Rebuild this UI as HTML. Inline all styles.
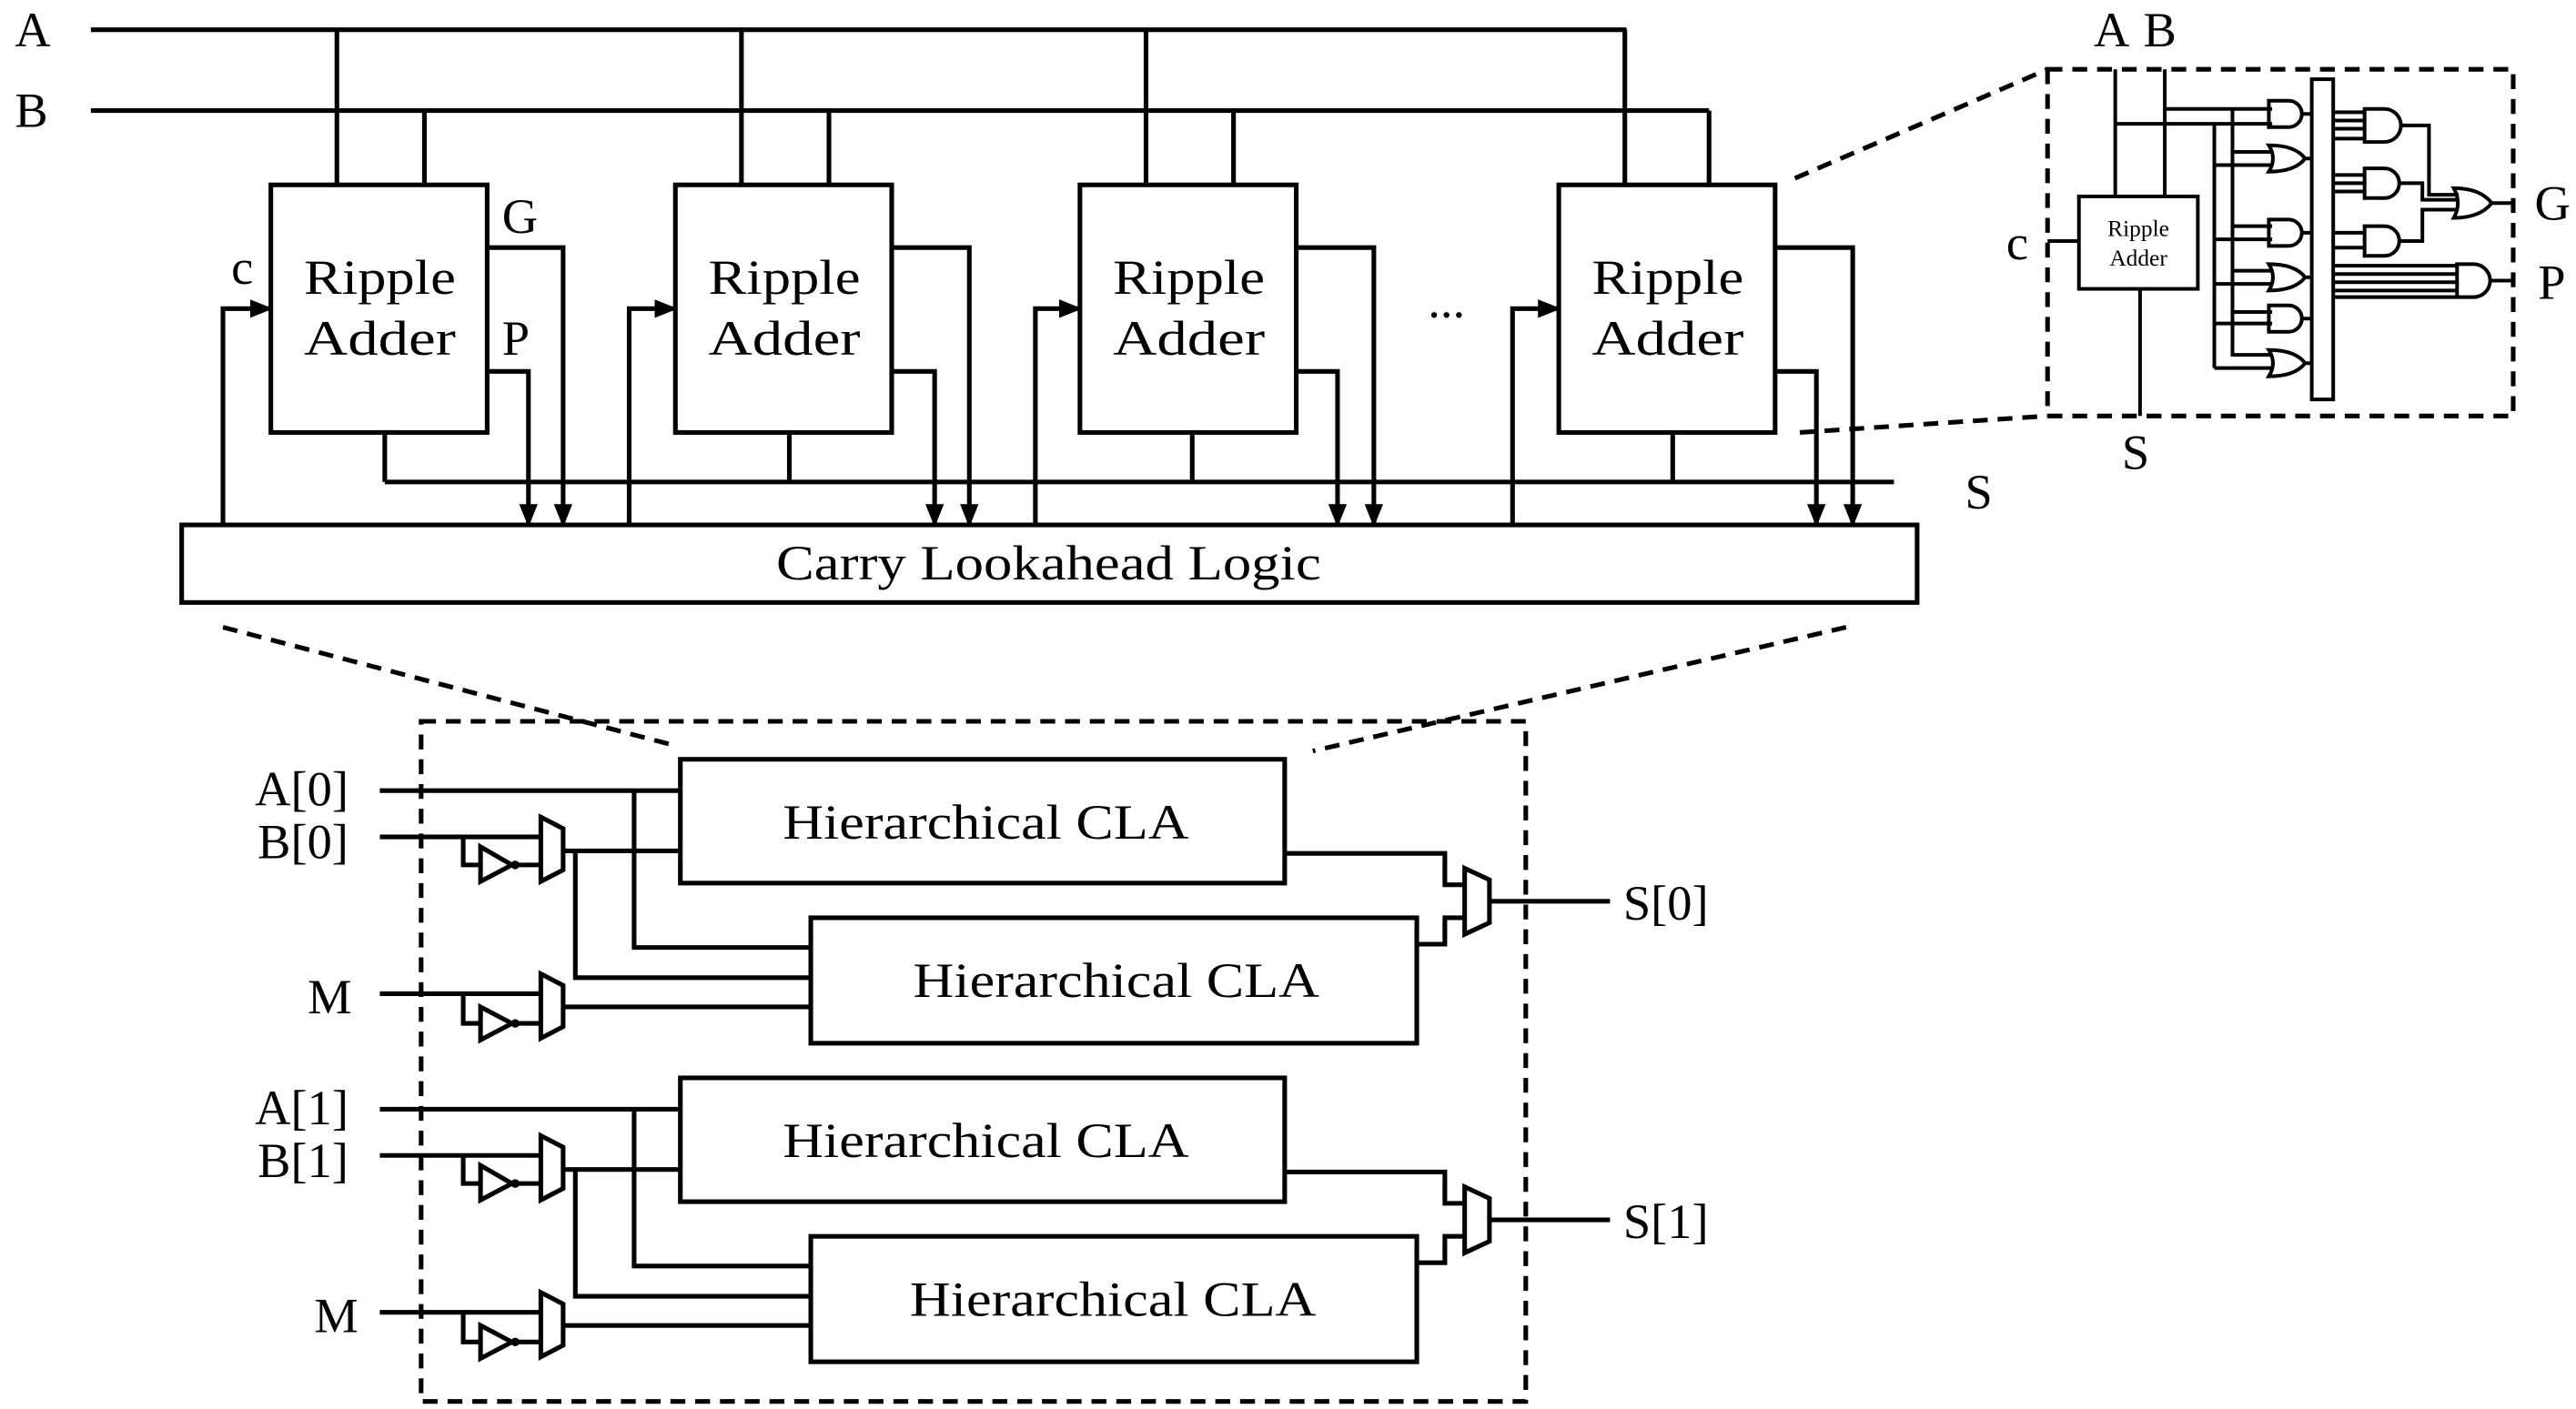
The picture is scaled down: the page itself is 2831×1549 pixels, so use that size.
<!DOCTYPE html>
<html><head><meta charset="utf-8"><style>html,body{margin:0;padding:0;background:#fff}svg{display:block}</style></head><body>
<svg width="2831" height="1549" viewBox="0 0 1560 853.6" xmlns="http://www.w3.org/2000/svg" font-family="Liberation Serif, serif">
<defs>
<marker id="arr" viewBox="0 0 10 10" refX="9" refY="5" markerWidth="14" markerHeight="14" orient="auto" markerUnits="userSpaceOnUse"><path d="M0,1 L10,5 L0,9 z" fill="#000"/></marker>
</defs>
<g fill="none" stroke="#000" stroke-width="2.8">
<path d="M55,18 H985 M55,67 H1035"/>
<path d="M204,18V112 M449,18V112 M694,18V112 M984,18V112"/>
<path d="M257,67V112 M502,67V112 M747,67V112 M1035,67V112"/>
<rect x="164" y="112" width="131" height="150"/>
<rect x="409" y="112" width="131" height="150"/>
<rect x="654" y="112" width="131" height="150"/>
<rect x="944" y="112" width="131" height="150"/>
<rect x="110" y="318" width="1051" height="47"/>
<path d="M233,262V292 M478,262V292 M722,262V292 M1013,262V292 M233,292H1147"/>
<g marker-end="url(#arr)">
<path d="M295,150H341V318"/><path d="M295,225H320V318"/>
<path d="M540,150H587V318"/><path d="M540,225H566V318"/>
<path d="M785,150H832V318"/><path d="M785,225H810V318"/>
<path d="M1075,150H1122V318"/><path d="M1075,225H1100V318"/>
<path d="M135,318V187H164"/><path d="M381,318V187H409"/><path d="M627,318V187H654"/><path d="M916,318V187H944"/>
</g>
<g stroke-dasharray="9,6">
<path d="M135,380L410,452 M1118,380L795,455"/>
<rect x="255" y="437" width="669" height="412"/>
<path d="M1087,108L1240,42 M1090,262L1240,252"/>
<rect x="1240" y="42" width="282" height="210"/>
</g>
<g stroke-width="2.2">
<rect x="1259" y="119" width="72" height="56"/>
<path d="M1281,42V119 M1311,42V119 M1240,146H1259 M1296,175V252"/>
<path d="M1311,66H1376 M1281,75H1376"/>
<path d="M1352,66V216 M1341,75V223"/>
<path d="M1352,92H1376 M1341,100H1376 M1352,137H1376 M1341,145H1376 M1352,164H1376 M1341,172H1376 M1352,189H1376 M1341,196H1376 M1352,215H1376 M1341,223H1376"/>
<path d="M1374,61H1386A8,8 0 0 1 1386,77H1374Z M1374,133H1386A8,8 0 0 1 1386,149H1374Z M1374,185H1386A8,8 0 0 1 1386,201H1374Z"/>
<path d="M1374,88Q1390,88 1396,96Q1390,104 1374,104Q1379,96 1374,88Z M1374,160Q1390,160 1396,168Q1390,176 1374,176Q1379,168 1374,160Z M1374,212Q1390,212 1396,220Q1390,228 1374,228Q1379,220 1374,212Z"/>
<path d="M1394,69H1400 M1396,96H1400 M1394,141H1400 M1396,168H1400 M1394,193H1400 M1396,220H1400"/>
<rect x="1400" y="48" width="13" height="194"/>
<path d="M1413,68H1432 M1413,73H1432 M1413,78H1432 M1413,84H1432"/>
<path d="M1432,66H1444A10,10 0 0 1 1444,86H1432Z"/>
<path d="M1413,106H1432 M1413,111H1432 M1413,116H1432"/>
<path d="M1432,102H1444A9,9 0 0 1 1444,120H1432Z"/>
<path d="M1413,141H1432 M1413,150H1432"/>
<path d="M1432,137H1444A9,9 0 0 1 1444,155H1432Z"/>
<path d="M1413,161H1488 M1413,166H1488 M1413,171H1488 M1413,176H1488 M1413,180H1488"/>
<path d="M1488,160H1498A10,10 0 0 1 1498,180H1488Z"/>
<path d="M1508,170H1522"/>
<path d="M1454,76H1471V118H1489 M1453,111H1467V121H1489 M1453,146H1467V127H1489"/>
<path d="M1486,114Q1502,114 1509,123Q1502,132 1486,132Q1491,123 1486,114Z"/>
<path d="M1509,123H1522"/>
</g>
<g id="grp">
<path d="M230,479H412 M384,479V574H491"/>
<path d="M230,507H327.5 M280.5,507V524H291 M312,524H327.5"/>
<path d="M291,513L310,524L291,534Z"/>
<path d="M327.5,495L341,502V527L327.5,534Z"/>
<path d="M341,515.5H412 M348.4,515.5V592.3H491"/>
<path d="M230,602H327.5 M280.5,602V620H291 M312,620H327.5"/>
<path d="M291,610L310,620L291,630Z"/>
<path d="M327.5,590L341,597V622L327.5,629Z"/>
<path d="M341,610H491"/>
<rect x="412" y="460" width="366" height="75"/>
<rect x="491" y="556" width="367" height="76"/>
<path d="M778,517H875V536H887 M858,572H875V556H887"/>
<path d="M887,526L902,533V559L887,566Z"/>
<path d="M902,546H975"/>
</g>
<use href="#grp" transform="translate(0,193)"/>
</g>
<g fill="#000" stroke="none">
<circle cx="312" cy="524" r="2.6"/><circle cx="312" cy="620" r="2.6"/>
<circle cx="312" cy="717" r="2.6"/><circle cx="312" cy="813" r="2.6"/>
</g>
<g font-size="30" fill="#000">
<text x="9" y="28">A</text><text x="9" y="77">B</text>
<g text-anchor="middle" lengthAdjust="spacingAndGlyphs">
<text x="230" y="178" textLength="92" lengthAdjust="spacingAndGlyphs">Ripple</text><text x="230" y="215" textLength="92" lengthAdjust="spacingAndGlyphs">Adder</text>
<text x="475" y="178" textLength="92" lengthAdjust="spacingAndGlyphs">Ripple</text><text x="475" y="215" textLength="92" lengthAdjust="spacingAndGlyphs">Adder</text>
<text x="720" y="178" textLength="92" lengthAdjust="spacingAndGlyphs">Ripple</text><text x="720" y="215" textLength="92" lengthAdjust="spacingAndGlyphs">Adder</text>
<text x="1010" y="178" textLength="92" lengthAdjust="spacingAndGlyphs">Ripple</text><text x="1010" y="215" textLength="92" lengthAdjust="spacingAndGlyphs">Adder</text>
<text x="635" y="351" textLength="330" lengthAdjust="spacingAndGlyphs">Carry Lookahead Logic</text>
<text x="597" y="508" textLength="246" lengthAdjust="spacingAndGlyphs">Hierarchical CLA</text>
<text x="676" y="604" textLength="246" lengthAdjust="spacingAndGlyphs">Hierarchical CLA</text>
<text x="597" y="701" textLength="246" lengthAdjust="spacingAndGlyphs">Hierarchical CLA</text>
<text x="674" y="797" textLength="246" lengthAdjust="spacingAndGlyphs">Hierarchical CLA</text>
<text x="876" y="192">...</text>
</g>
<text x="304" y="141">G</text><text x="304" y="215">P</text><text x="140" y="172">c</text>
<text x="1190" y="308">S</text>
<text x="1268" y="28">A</text><text x="1298" y="28">B</text>
<text x="1215" y="157">c</text>
<text x="1285" y="284">S</text>
<text x="1535" y="133">G</text><text x="1537" y="181">P</text>
<g text-anchor="end">
<text x="211" y="488">A[0]</text><text x="211" y="520">B[0]</text><text x="213" y="614">M</text>
<text x="211" y="681">A[1]</text><text x="211" y="713">B[1]</text><text x="217" y="807">M</text>
</g>
<text x="983" y="557">S[0]</text><text x="983" y="750">S[1]</text>
</g>
<g font-size="14" text-anchor="middle" fill="#000">
<text x="1295" y="143">Ripple</text><text x="1295" y="161">Adder</text>
</g>
</svg>
</body></html>
